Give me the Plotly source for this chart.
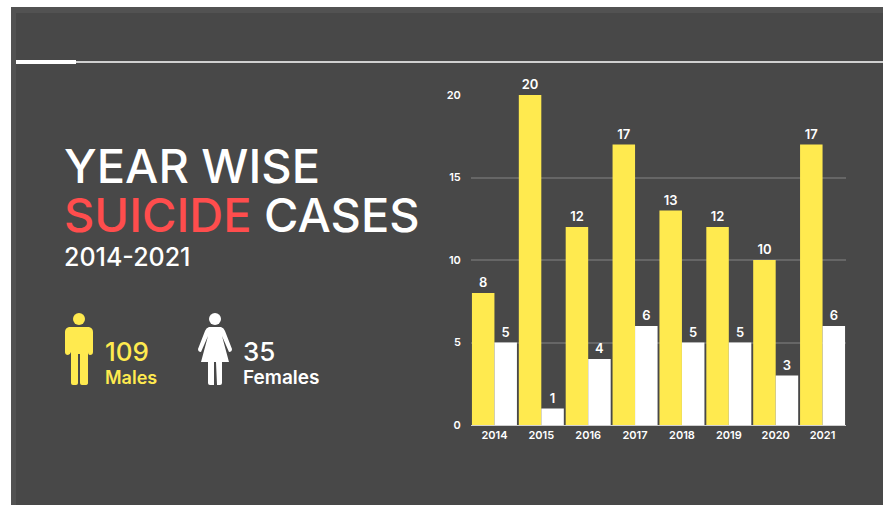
import plotly.graph_objects as go

W, H = 883, 505
years = ["2014", "2015", "2016", "2017", "2018", "2019", "2020", "2021"]
males = [8, 20, 12, 17, 13, 12, 10, 17]
females = [5, 1, 4, 6, 5, 5, 3, 6]
y_ticks = [0, 5, 10, 15, 20]
male_total = "109"
female_total = "35"

YELLOW = "#FFEA4F"
WHITE = "#FFFFFF"
RED = "#FF4D4D"
FONT = "Inter"

def px(x): return x / W
def py(y): return 1 - y / H
def path(points_cmds):
    out = []
    for c in points_cmds:
        if isinstance(c, str):
            out.append(c)
        else:
            out.append(f"{px(c[0]):.5f},{py(c[1]):.5f}")
    return " ".join(out)

fig = go.Figure()
common = dict(textposition="outside", cliponaxis=False, texttemplate="%{y}",
              textfont=dict(color=WHITE, size=13, family=FONT, weight=600), hoverinfo="skip")
fig.add_bar(x=years, y=males, marker=dict(color=YELLOW, line_width=0), **common)
fig.add_bar(x=years, y=females, marker=dict(color=WHITE, line_width=0), **common)

shapes = [
    dict(type="rect", xref="paper", yref="paper", x0=px(11), x1=px(W), y0=py(7), y1=py(H),
         fillcolor="#525252", line_width=0, layer="below"),
    dict(type="rect", xref="paper", yref="paper", x0=px(16), x1=px(W), y0=py(13), y1=py(H),
         fillcolor="#484848", line_width=0, layer="below"),
    dict(type="line", xref="paper", yref="paper", x0=px(76), x1=px(W), y0=py(62), y1=py(62),
         line=dict(color="#D0D0D0", width=2)),
    dict(type="rect", xref="paper", yref="paper", x0=px(16), x1=px(76), y0=py(60), y1=py(64),
         fillcolor=WHITE, line_width=0),
    # male icon
    dict(type="circle", xref="paper", yref="paper", x0=px(73), x1=px(85), y0=py(313), y1=py(325),
         fillcolor=YELLOW, line_width=0),
    dict(type="path", xref="paper", yref="paper", fillcolor=YELLOW, line_width=0, path=path([
        "M", (69, 327), "L", (89, 327), "Q", (93, 328), (93, 332), "L", (93, 352), "Q", (93, 355), (90, 355),
        "Q", (88, 355), (88, 352), "L", (88, 383), "Q", (88, 385), (85, 385), "L", (82, 385), "Q", (80, 385), (80, 383),
        "L", (80, 354), "L", (78, 354), "L", (78, 383), "Q", (78, 385), (76, 385), "L", (73, 385), "Q", (71, 385), (71, 383),
        "L", (71, 352), "Q", (70, 355), (68, 355), "Q", (65, 355), (65, 352), "L", (65, 332), "Q", (65, 328), (69, 327), "Z"])),
    # female icon
    dict(type="circle", xref="paper", yref="paper", x0=px(209), x1=px(221), y0=py(313), y1=py(325),
         fillcolor=WHITE, line_width=0),
    dict(type="path", xref="paper", yref="paper", fillcolor=WHITE, line_width=0, path=path([
        "M", (209, 327), "L", (221, 327), "Q", (224, 328), (225, 331), "L", (232, 349), "Q", (232, 352), (229, 352),
        "L", (222, 336), "L", (229, 362), "L", (222, 362), "L", (222, 383), "Q", (222, 385), (220, 385), "L", (217, 385),
        "L", (216, 362), "L", (214, 362), "L", (214, 385), "L", (210, 385), "Q", (208, 385), (208, 383), "L", (208, 362),
        "L", (201, 362), "L", (208, 336), "L", (201, 352), "Q", (198, 352), (198, 349), "L", (205, 331), "Q", (206, 328), (209, 327), "Z"])),
]

def note(x, y, text, size, color=WHITE, weight=500):
    return dict(xref="paper", yref="paper", x=px(x), y=py(y), xanchor="left", yanchor="middle",
                text=text, showarrow=False, align="left",
                font=dict(family=FONT, size=size, color=color, weight=weight))

annotations = [
    note(62, 165, "YEAR WISE", 47),
    note(62, 215, f'<span style="color:{RED}">SUICIDE</span> CASES', 47),
    note(62, 257, "2014-2021", 25),
    note(103, 351, male_total, 26, YELLOW),
    note(103, 377, "Males", 18, YELLOW, 600),
    note(241, 351, female_total, 26),
    note(241, 377, "Females", 19, WHITE, 600),
]

fig.update_layout(
    width=W, height=H, margin=dict(l=0, r=0, t=0, b=0), autosize=False,
    paper_bgcolor=WHITE, plot_bgcolor="rgba(0,0,0,0)", showlegend=False,
    barmode="group", bargap=0.04, bargroupgap=0,
    shapes=shapes, annotations=annotations,
    xaxis=dict(domain=[px(471), px(846)], type="category", range=[-0.5, 7.5], showgrid=False, automargin=False,
               showline=True, linecolor="#D0D0D0", linewidth=1, ticks="", ticklen=0,
               tickfont=dict(family=FONT, size=11, color=WHITE, weight=600), fixedrange=True),
    yaxis=dict(domain=[py(425), py(95)], range=[0, 20], tickvals=y_ticks, gridcolor="#666666", gridwidth=1.5,
               zeroline=False, showline=False, ticks="outside", ticklen=7, tickcolor="rgba(0,0,0,0)", automargin=False,
               tickfont=dict(family=FONT, size=11, color=WHITE, weight=600), fixedrange=True),
)

fig.write_html("out.html", config=dict(displayModeBar=False),
               post_script="document.body.style.margin='0';document.body.style.overflow='hidden';")
